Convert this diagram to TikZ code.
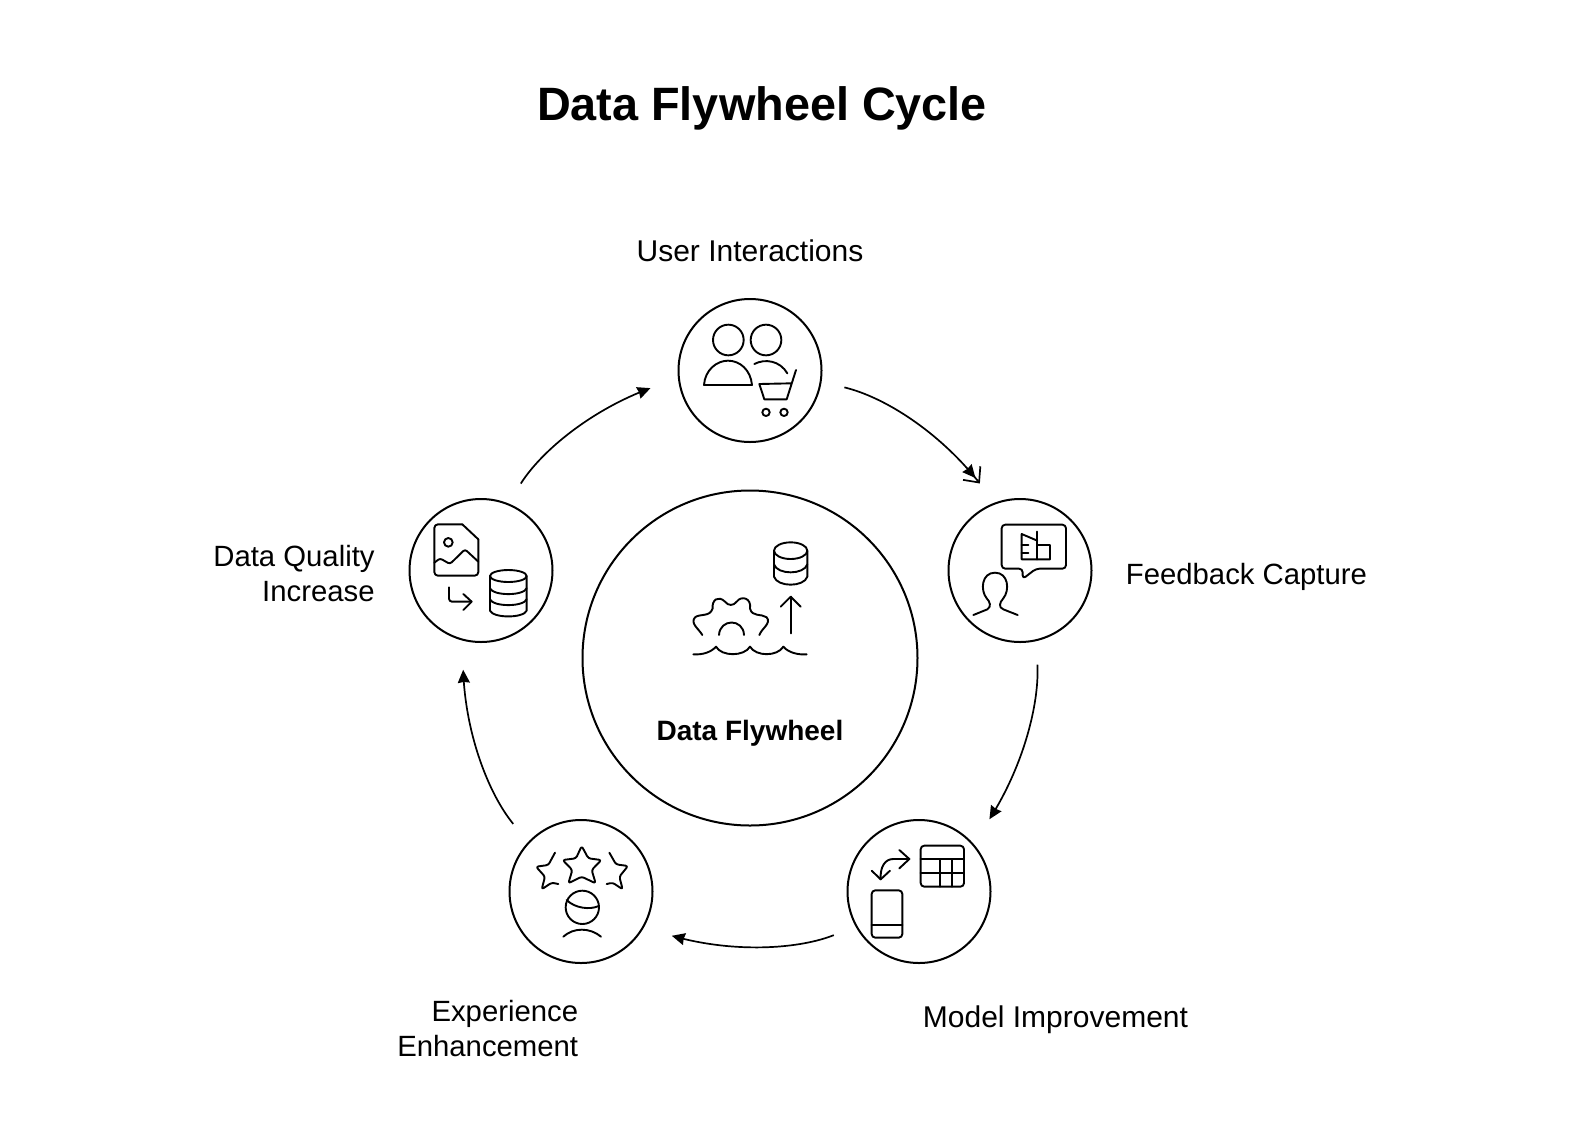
\documentclass[tikz,border=0pt]{standalone}
\usepackage{fontspec}
\setmainfont{Liberation Sans}
\usetikzlibrary{arrows.meta, bending}
\tikzset{
  station/.style={circle, draw, line width=1pt, minimum size=71.5pt, inner sep=0pt, outer sep=0pt},
  hub/.style={circle, draw, line width=1pt, minimum size=167.5pt, inner sep=0pt, outer sep=0pt},
  flow/.style={line width=.85pt, -{Stealth[length=6.5pt,width=6pt,inset=.4pt]}, shorten <=12.2pt, shorten >=15pt, looseness=.9},
  lab/.style={font=\fontsize{15}{17.5}\selectfont, inner sep=0pt},
  labsmall/.style={font=\fontsize{14.65}{17.5}\selectfont, inner sep=0pt},
  icon/.style={line width=.95pt, line join=round, line cap=round},
  iconbox/.style 2 args={shift={(#1,-#2)}, x=.16667pt, y=-.16667pt, icon}
}
\begin{document}
\begin{tikzpicture}[x=.5pt, y=.5pt]
  \useasboundingbox (0,0) rectangle (1586,-1126);

  \node[font=\fontsize{23.4}{28}\selectfont\bfseries, inner sep=0pt] (title) at (762,-108) {Data Flywheel Cycle};

  \node[hub] (wheel) at (750,-658) {};
  \node[station] (users) at (750,-370.5) {};
  \node[station] (feedback) at (1020,-570.5) {};
  \node[station] (model) at (919,-891.5) {};
  \node[station] (experience) at (581,-891.5) {};
  \node[station] (quality) at (481,-570.5) {};

  \node[font=\fontsize{14}{17}\selectfont\bfseries, inner sep=0pt] (wheellab) at (750,-733) {Data Flywheel};
  \node[lab] (userslab) at (750,-251) {User Interactions};
  \node[labsmall, anchor=west] (feedbacklab) at (1125.5,-577) {Feedback Capture};
  \node[lab, anchor=west] (modellab) at (922.5,-1019.5) {Model Improvement};
  \node[labsmall, anchor=east, align=right] (experiencelab) at (578.5,-1029) {Experience\\Enhancement};
  \node[labsmall, anchor=east, align=right] (qualitylab) at (375,-573.5) {Data Quality\\Increase};

  % cycle arrows
  \draw[flow, shorten >=12.5pt, -{Stealth[length=6.5pt,width=6pt,inset=.4pt,sep=-3.5pt]Straight Barb[length=6pt,width=11pt]}] (users.-9.5) to[bend left=21.6] (feedback.111.5);
  \draw[flow] (feedback.-77) to[bend left=20.5] (model.42.2);
  \draw[flow] (model.209.6) to[bend left=21.6] (experience.-29.2);
  \draw[flow] (experience.137.2) to[bend left=21.6] (quality.-104.7);
  \draw[flow] (quality.68.5) to[bend left=21.6] (users.187.2);

  % users and cart
  \begin{scope}[iconbox={660}{290}]
    \draw (205,150) circle (46);
    \draw (318,150) circle (46);
    \draw (132,285) .. controls (135,240) and (170,212) .. (204,212) .. controls (240,212) and (272,240) .. (276,285) -- cycle;
    \draw (283,222) .. controls (315,205) and (360,212) .. (382,250);
    \draw (408,240) -- (380,328) -- (313,328) -- (298,282) -- (392,280);
    \draw (318,367) circle (11);
    \draw (372,367) circle (11);
  \end{scope}

  % speech bubble and person
  \begin{scope}[iconbox={930}{450}]
    \draw[rounded corners=1.8pt] (215,224) -- (408,224) -- (408,356) -- (318,356) -- (278,387) -- (278,356) -- (215,356) -- cycle;
    \draw (322,272) -- (275,252) -- (275,328) -- (360,328) -- (360,285) -- (322,285);
    \draw (322,245) -- (322,328);
    \draw (275,285) -- (295,285);
    \draw (275,308) -- (295,308);
    \draw (130,495) -- (172,478) .. controls (185,470) and (180,455) .. (170,445) .. controls (150,420) and (155,368) .. (195,368) .. controls (235,368) and (240,420) .. (220,445) .. controls (208,458) and (205,472) .. (220,478) -- (263,495);
  \end{scope}

  % table and phone
  \begin{scope}[iconbox={830}{810}]
    \draw[rounded corners=1.8pt] (272,107) rectangle (402,230);
    \draw (272,148) -- (402,148);
    \draw (272,190) -- (402,190);
    \draw (330,148) -- (330,230);
    \draw (365,148) -- (365,230);
    \draw[rounded corners=1.8pt] (125,241) rectangle (217,383);
    \draw (125,345) -- (217,345);
    \draw (238,147) -- (190,147) .. controls (165,147) and (150,170) .. (152,208);
    \draw (208,120) -- (238,147) -- (208,175);
    \draw (125,182) -- (152,208) -- (180,182);
  \end{scope}

  % stars and person
  \begin{scope}[iconbox={500}{810}]
    \draw[rounded corners=1.2pt] (245,108) -- (265,145) -- (304,150) -- (275,180) -- (287,220) -- (245,200) -- (205,220) -- (217,180) -- (188,150) -- (228,145) -- cycle;
    \draw[rounded corners=1.2pt] (165,128) -- (145,165) -- (108,170) -- (135,200) -- (125,238) -- (155,218) -- (175,222);
    \draw[rounded corners=1.2pt] (328,128) -- (348,163) -- (384,168) -- (358,200) -- (368,238) -- (338,218) -- (320,222);
    \draw (247,292) circle (50);
    \draw (200,270) .. controls (225,295) and (270,300) .. (296,288);
    \draw (190,380) .. controls (220,352) and (270,352) .. (303,380);
  \end{scope}

  % image file and database
  \begin{scope}[iconbox={400}{490}]
    \draw[rounded corners=1.8pt] (187,103) -- (103,103) -- (103,257) -- (235,257) -- (235,148);
    \draw (187,103) -- (235,148);
    \draw (145,157) circle (13);
    \draw[rounded corners=1.2pt] (103,218) -- (120,205) -- (150,222) -- (195,178) -- (235,215);
    \draw[rounded corners=1.5pt] (147,292) -- (147,335) -- (213,335);
    \draw (190,312) -- (215,335) -- (190,360);
    \draw (325,258) ellipse (55 and 18);
    \draw (270,258) -- (270,362) .. controls (280,385) and (370,385) .. (380,362) -- (380,258);
    \draw (270,295) .. controls (280,318) and (370,318) .. (380,295);
    \draw (270,328) .. controls (280,351) and (370,351) .. (380,328);
  \end{scope}

  % gear, waves and database
  \begin{scope}[iconbox={670}{530}]
    \draw (362,62) ellipse (50 and 25);
    \draw (312,62) -- (312,140) .. controls (322,172) and (402,172) .. (412,140) -- (412,62);
    \draw (312,103) .. controls (322,135) and (402,135) .. (412,103);
    \draw (362,310) -- (362,200);
    \draw (332,230) -- (362,200) -- (392,230);
    \draw (97,315) .. controls (85,295) and (60,280) .. (75,262) .. controls (90,250) and (120,262) .. (128,235) .. controls (125,210) and (145,195) .. (165,215) .. controls (175,228) and (190,228) .. (200,215) .. controls (215,195) and (245,205) .. (240,235) .. controls (245,262) and (275,250) .. (290,262) .. controls (305,280) and (275,295) .. (268,315);
    \draw (147,315) .. controls (150,265) and (220,265) .. (222,315);
    \draw (70,373) .. controls (100,375) and (125,365) .. (138,350) .. controls (155,380) and (222,380) .. (240,350) .. controls (258,380) and (322,380) .. (340,350) .. controls (355,368) and (385,375) .. (410,373);
  \end{scope}
\end{tikzpicture}
\end{document}
